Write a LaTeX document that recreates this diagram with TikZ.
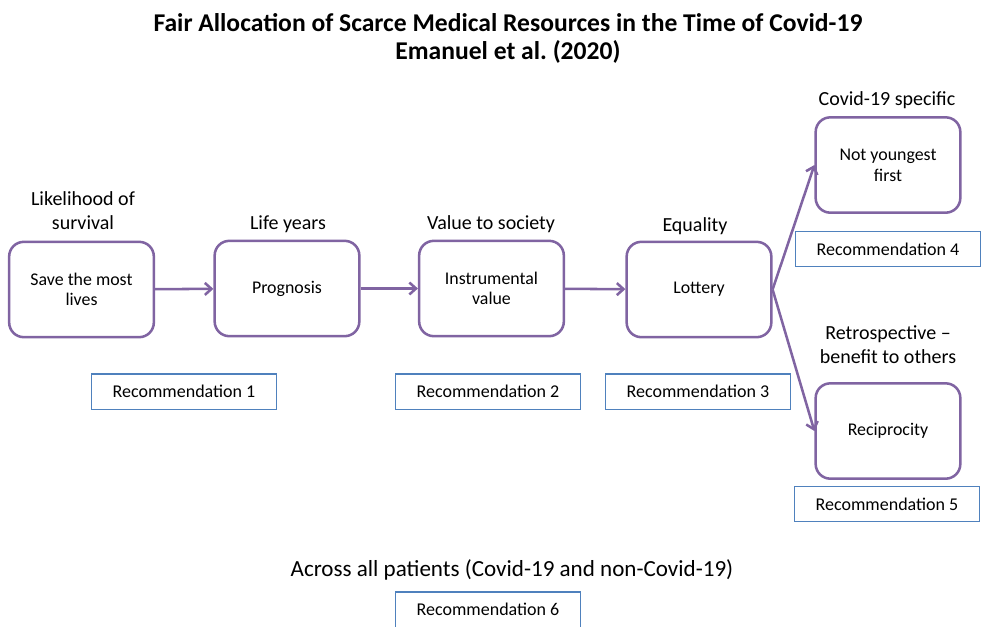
\documentclass[tikz,border=0pt]{standalone}
\usepackage{fontspec}
\setmainfont{Carlito}
\definecolor{EmPurple}{RGB}{128,100,162}
\definecolor{EmBlue}{RGB}{79,129,189}
\usetikzlibrary{
    arrows.meta,
    positioning,
}

\begin{document}
\begin{tikzpicture}[x=0.75pt,y=-0.75pt,
    principle/.style={draw=EmPurple, line width=1.9pt, rounded corners=11pt,
        minimum width=108.5pt, minimum height=71.5pt, align=center,
        font=\fontsize{13.4}{15.5}\selectfont},
    rec/.style={draw=EmBlue, line width=1.1pt, minimum width=138.5pt,
        minimum height=26.6pt, font=\fontsize{13.5}{15.5}\selectfont},
    heading/.style={align=center, font=\fontsize{15}{18}\selectfont},
    link/.style={draw=EmPurple, line width=1.9pt,
        -{Straight Barb[length=5pt,width=9pt]}},
]
    \useasboundingbox (0,0) rectangle (983,626);
    % title
    \node[align=center, font=\bfseries\fontsize{19.2}{21}\selectfont] (title) at (508,38)
        {Fair Allocation of Scarce Medical Resources in the Time of Covid-19\\Emanuel et al.\ (2020)};

    % principles
    \node[principle] (lives) at (81.5,289.5) {Save the most\\lives};
    \node[principle] (prog) at (287,288.5) {Prognosis};
    \node[principle] (instr) at (491.5,288.5) {Instrumental\\value};
    \node[principle] (lott) at (699,289.5) {Lottery};
    \node[principle] (young) at (888,165) {Not youngest\\first};
    \node[principle] (recip) at (888,431) {Reciprocity};

    % headings above the boxes
    \node[heading] (hLives) at (83,211) {Likelihood of\\survival};
    \node[heading] (hProg) at (288,224) {Life years};
    \node[heading] (hInstr) at (491,224) {Value to society};
    \node[heading] (hLott) at (695,226) {Equality};
    \node[heading] (hYoung) at (887,100) {Covid-19 specific};
    \node[heading] (hRecip) at (888,345) {Retrospective --\\benefit to others};
    \node[heading, font=\fontsize{17.3}{20}\selectfont] (hAll) at (512,570)
        {Across all patients (Covid-19 and non-Covid-19)};

    % recommendations
    \node[rec] (rec1) at (184,391.5) {Recommendation 1};
    \node[rec] (rec2) at (488,391.5) {Recommendation 2};
    \node[rec] (rec3) at (698,391.5) {Recommendation 3};
    \node[rec] (rec4) at (888,249) {Recommendation 4};
    \node[rec] (rec5) at (887,504) {Recommendation 5};
    \node[rec] (rec6) at (488,609.5) {Recommendation 6};

    % arrows
    \draw[link] (lives) -- (prog);
    \draw[link] (prog) -- (instr);
    \draw[link] (instr) -- (lott);
    \draw[link] (lott.east) -- (young.west);
    \draw[link] (lott.east) -- (recip.west);
\end{tikzpicture}
\end{document}
